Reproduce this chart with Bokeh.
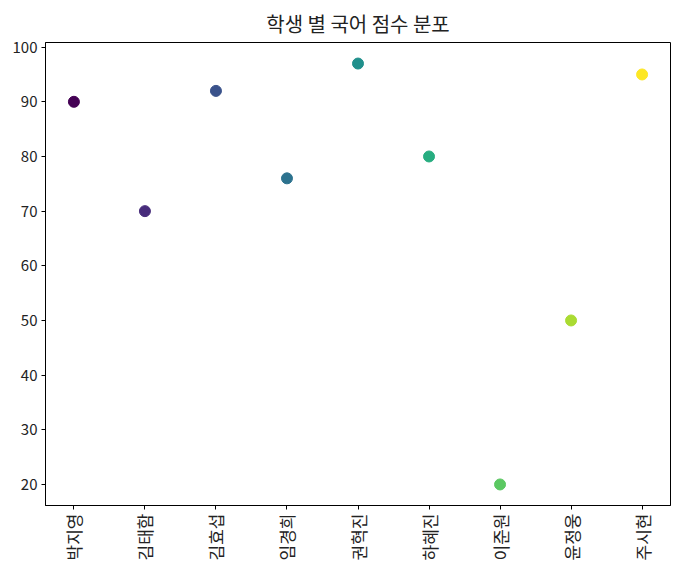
from math import pi
from bokeh.plotting import figure
from bokeh.models import ColumnDataSource, FixedTicker, Range1d
from bokeh.palettes import Viridis256
from bokeh.embed import file_html
from bokeh.resources import INLINE

students = ["박지영", "김태함", "김효섭", "임경희", "권혁진", "하혜진", "이준원", "윤정웅", "주시현"]
scores = [90, 70, 92, 76, 97, 80, 20, 50, 95]
y_ticks = [20, 30, 40, 50, 60, 70, 80, 90, 100]

n = len(students)
xs = list(range(n))
colors = [Viridis256[round(i * 255 / (n - 1))] for i in range(n)]
src = ColumnDataSource(dict(x=xs, y=scores, c=colors, name=students))

FONT = "Noto Sans CJK KR"

p = figure(output_backend="svg", toolbar_location=None,
           x_range=Range1d(-0.4, n - 1 + 0.4), y_range=Range1d(16.15, 100.85),
           min_border_left=45, min_border_right=8, min_border_top=42, min_border_bottom=0,
           title="학생 별 국어 점수 분포")
p.frame_width = 625
p.frame_height = 463

p.scatter("x", "y", source=src, size=11, fill_color="c", line_color="c")

p.title.align = "center"
p.title.text_font = FONT
p.title.text_font_size = "20px"
p.title.text_font_style = "normal"
p.title.text_color = "#222222"
p.title.offset = 0
p.title.standoff = 10

p.xgrid.visible = False
p.ygrid.visible = False
p.outline_line_color = "black"
p.outline_line_alpha = 1
p.outline_line_width = 1

p.xaxis.ticker = FixedTicker(ticks=xs)
p.xaxis.major_label_overrides = {i: s for i, s in enumerate(students)}
p.xaxis.major_label_orientation = pi / 2
p.yaxis.ticker = FixedTicker(ticks=y_ticks)

for ax in (p.xaxis[0], p.yaxis[0]):
    ax.major_label_text_font = FONT
    ax.major_label_text_color = "#222222"
    ax.axis_line_color = "black"
    ax.major_tick_line_color = "black"
    ax.major_tick_out = 4
    ax.major_tick_in = 0
    ax.minor_tick_line_color = None
    ax.major_label_standoff = 4
p.xaxis.major_label_text_font_size = "17px"
p.yaxis.major_label_text_font_size = "15px"

open("out.html", "w").write(file_html(p, INLINE))
